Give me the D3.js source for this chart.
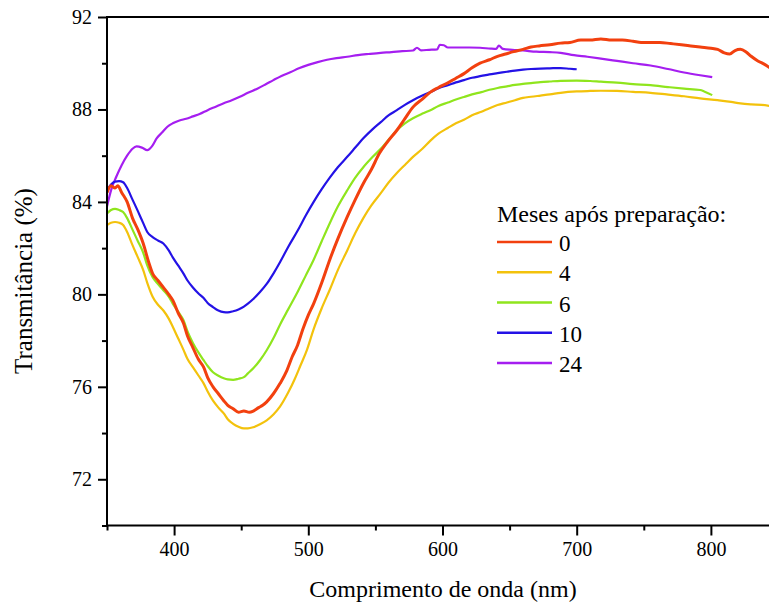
<!DOCTYPE html>
<html>
<head>
<meta charset="utf-8">
<script src="https://cdn.jsdelivr.net/npm/d3@7"></script>
<style>
  html, body { margin: 0; padding: 0; background: #fff; }
  svg text { font-family: "Liberation Serif", "DejaVu Serif", serif !important; fill: #000; }
</style>
</head>
<body>
<svg id="chart" width="769" height="603"></svg>
<script>
// ---- Data (wavelength nm, transmittance %) ----
const legendTitle = "Meses após preparação:";
const seriesNames = ["0", "4", "6", "10", "24"];
const seriesColors = ["#f2400f", "#f3c20c", "#8fe51d", "#2412e6", "#a51ef0"];

const wl0 = [350,353,356,358,361,365,369,373,377,381,384,388,392,396,399,403,407,410,414,418,422,425,429,433,437,440,444,448,452,456,459,463,466,469,474,479,484,488,492,496,500,504,510,516,522,529,535,541,547,553,559,566,572,578,585,591,597,604,610,616,622,628,635,641,647,653,660,666,672,680,688,695,703,710,718,726,734,742,748,755,762,770,778,785,792,800,805,810,814,818,822,826,830,835,840,844];
const t0  = [84.4,84.7,84.6,84.7,84.4,84.0,83.3,82.8,82.2,81.4,80.9,80.6,80.3,80.0,79.75,79.2,78.75,78.2,77.7,77.2,76.85,76.4,76.0,75.7,75.4,75.2,75.05,74.9,74.95,74.9,74.95,75.1,75.2,75.35,75.7,76.15,76.7,77.3,77.8,78.5,79.1,79.6,80.5,81.5,82.4,83.35,84.1,84.8,85.4,86.1,86.6,87.1,87.6,88.1,88.45,88.75,88.95,89.15,89.35,89.55,89.8,90.0,90.15,90.3,90.4,90.5,90.6,90.7,90.75,90.8,90.87,90.9,91.0,91.0,91.05,91.0,91.0,90.95,90.9,90.9,90.9,90.85,90.8,90.75,90.7,90.65,90.6,90.45,90.4,90.55,90.6,90.5,90.3,90.1,89.95,89.8];

const wl4 = [350,353,356,359,362,365,369,373,377,380,384,388,392,396,399,403,407,410,414,418,422,425,429,433,437,440,444,448,452,455,459,464,469,474,479,485,490,494,499,504,510,516,522,529,535,541,547,554,560,566,572,578,585,591,597,604,610,616,622,629,635,641,648,654,660,666,673,680,688,700,710,718,730,742,755,767,780,792,805,815,822,830,838,844];
const t4  = [83.0,83.1,83.13,83.1,83.0,82.7,82.13,81.6,81.05,80.5,79.9,79.55,79.3,78.95,78.6,78.1,77.6,77.2,76.85,76.5,76.15,75.8,75.4,75.1,74.85,74.6,74.4,74.27,74.2,74.2,74.25,74.38,74.55,74.8,75.15,75.75,76.35,76.9,77.6,78.5,79.4,80.2,81.05,81.9,82.65,83.3,83.85,84.38,84.85,85.25,85.6,85.95,86.3,86.65,86.95,87.2,87.4,87.55,87.75,87.9,88.05,88.19,88.3,88.4,88.5,88.55,88.6,88.65,88.72,88.78,88.8,88.81,88.8,88.76,88.72,88.65,88.57,88.48,88.4,88.33,88.26,88.22,88.2,88.15];

const wl6 = [350,353,356,359,362,365,369,373,377,380,384,388,392,396,399,403,407,410,414,418,422,425,429,433,437,440,444,448,452,455,459,464,469,474,479,485,492,498,504,510,516,522,529,535,541,548,554,560,566,572,578,585,591,597,604,610,616,622,629,635,641,648,654,660,666,673,680,688,700,710,718,730,742,755,768,780,792,795,801];
const t6  = [83.5,83.65,83.7,83.65,83.56,83.3,82.8,82.3,81.8,81.25,80.74,80.45,80.18,79.9,79.6,79.25,78.88,78.4,77.9,77.5,77.15,76.9,76.63,76.48,76.37,76.32,76.3,76.35,76.42,76.58,76.8,77.15,77.58,78.1,78.7,79.35,80.1,80.8,81.5,82.3,83.08,83.8,84.5,85.05,85.5,85.95,86.3,86.7,87.1,87.4,87.62,87.82,87.97,88.15,88.3,88.43,88.54,88.65,88.75,88.85,88.93,89.0,89.06,89.11,89.14,89.18,89.21,89.24,89.25,89.23,89.2,89.16,89.1,89.05,88.97,88.9,88.84,88.78,88.62];

const wl10 = [350,353,356,359,362,365,369,373,377,380,384,388,392,396,399,403,407,410,414,418,422,425,429,433,437,440,444,448,452,455,459,464,469,474,479,485,492,498,504,510,516,522,529,535,541,548,554,560,566,572,578,585,591,597,604,610,616,622,629,635,641,648,654,660,666,673,680,688,695,700];
const t10  = [84.5,84.75,84.88,84.9,84.85,84.6,84.1,83.6,83.08,82.7,82.48,82.33,82.2,81.9,81.6,81.25,80.9,80.6,80.3,80.05,79.84,79.63,79.45,79.3,79.23,79.22,79.27,79.35,79.47,79.6,79.8,80.1,80.45,80.9,81.4,82.05,82.75,83.4,84.0,84.55,85.05,85.5,85.95,86.35,86.75,87.15,87.45,87.75,87.97,88.2,88.4,88.6,88.75,88.92,89.05,89.17,89.27,89.37,89.45,89.52,89.57,89.63,89.68,89.72,89.75,89.77,89.78,89.79,89.76,89.74];

const wl24 = [350,353,357,361,365,369,372,376,380,384,387,391,395,399,404,409,414,419,425,431,437,443,449,455,462,468,474,480,487,493,500,507,514,521,529,537,545,554,562,570,578,581,584,590,596,598,601,604,612,620,628,636,640,642,645,652,660,670,680,688,698,708,718,730,742,755,768,780,792,801];
const t24  = [83.8,84.5,85.1,85.6,86.0,86.3,86.4,86.35,86.24,86.45,86.75,87.0,87.25,87.4,87.52,87.6,87.7,87.8,87.97,88.12,88.27,88.4,88.55,88.72,88.9,89.08,89.27,89.45,89.62,89.78,89.93,90.05,90.15,90.22,90.28,90.35,90.4,90.45,90.48,90.52,90.55,90.67,90.56,90.58,90.6,90.8,90.78,90.68,90.68,90.68,90.67,90.63,90.62,90.76,90.62,90.58,90.55,90.5,90.48,90.45,90.35,90.28,90.2,90.1,90.0,89.9,89.75,89.6,89.48,89.4];

const xMajorTicks = [400, 500, 600, 700, 800];
const xMinorTicks = [350, 450, 550, 650, 750, 850];
const yMajorTicks = [72, 76, 80, 84, 88, 92];
const yMinorTicks = [70, 74, 78, 82, 86, 90];
const xTitle = "Comprimento de onda (nm)";
const yTitle = "Transmitância (%)";

// ---- Layout ----
const FONT = '"Liberation Serif", "DejaVu Serif", serif';
const svg = d3.select("#chart");
const L = 107, R = 769, T = 17, B = 525.5;
const x = d3.scaleLinear().domain([350, 843.3]).range([L, R]);
const y = d3.scaleLinear().domain([70, 92]).range([B, T]);

const series = [
  {wl: wl0, t: t0, w: 3},
  {wl: wl4, t: t4, w: 2.2},
  {wl: wl6, t: t6, w: 2.2},
  {wl: wl10, t: t10, w: 2.2},
  {wl: wl24, t: t24, w: 2.2}
];

svg.append("defs").append("clipPath").attr("id", "clip")
  .append("rect").attr("x", L).attr("y", T - 2).attr("width", R - L + 2).attr("height", B - T + 2);

const line = d3.line().x(d => x(d[0])).y(d => y(d[1])).curve(d3.curveMonotoneX);

const gLines = svg.append("g").attr("clip-path", "url(#clip)");
[4, 3, 2, 1, 0].forEach(i => {
  const s = series[i];
  gLines.append("path")
    .datum(s.wl.map((w, k) => [w, s.t[k]]))
    .attr("fill", "none")
    .attr("stroke", seriesColors[i])
    .attr("stroke-width", s.w)
    .attr("stroke-linejoin", "round")
    .attr("d", line);
});

// ---- Axes ----
const xAxisMajor = d3.axisBottom(x).tickValues(xMajorTicks).tickSize(10).tickPadding(6).tickFormat(d3.format("d"));
const xAxisMinor = d3.axisBottom(x).tickValues(xMinorTicks.filter(v => x(v) <= R)).tickSize(5).tickFormat("");
const yAxisMajor = d3.axisLeft(y).tickValues(yMajorTicks).tickSize(9).tickPadding(6).tickFormat(d3.format("d"));
const yAxisMinor = d3.axisLeft(y).tickValues(yMinorTicks).tickSize(5).tickFormat("");

function styleAxis(g) {
  g.attr("font-family", FONT);
  g.select(".domain").remove();
  g.selectAll("line").attr("stroke", "#000").attr("stroke-width", 2);
  g.selectAll("text").attr("font-family", FONT).attr("font-size", 20).attr("fill", "#000");
}

svg.append("g").attr("transform", `translate(0,${B})`).call(xAxisMajor).call(styleAxis);
svg.append("g").attr("transform", `translate(0,${B})`).call(xAxisMinor).call(styleAxis);
svg.append("g").attr("transform", `translate(${L},0)`).call(yAxisMajor).call(styleAxis);
svg.append("g").attr("transform", `translate(${L},0)`).call(yAxisMinor).call(styleAxis);

// frame lines (left, bottom, top)
svg.append("line").attr("x1", L).attr("x2", L).attr("y1", T - 1).attr("y2", B + 1).attr("stroke", "#000").attr("stroke-width", 2);
svg.append("line").attr("x1", L - 1).attr("x2", R).attr("y1", B).attr("y2", B).attr("stroke", "#000").attr("stroke-width", 2);
svg.append("line").attr("x1", L).attr("x2", R).attr("y1", T).attr("y2", T).attr("stroke", "#000").attr("stroke-width", 2);

// axis titles
svg.append("text").attr("x", 443).attr("y", 597).attr("text-anchor", "middle")
  .attr("font-family", FONT).attr("font-size", 24).text(xTitle);
svg.append("text").attr("transform", `translate(32,${281}) rotate(-90)`).attr("text-anchor", "middle")
  .attr("font-family", FONT).attr("font-size", 25).text(yTitle);

// ---- Legend ----
const lg = svg.append("g").attr("font-family", FONT);
lg.append("text").attr("x", 497).attr("y", 222).attr("font-size", 24).text(legendTitle);
const legendY = d3.scaleLinear().domain([0, 4]).range([242, 363]);
seriesNames.forEach((n, i) => {
  const yy = legendY(i);
  lg.append("line").attr("x1", 497).attr("x2", 552).attr("y1", yy).attr("y2", yy)
    .attr("stroke", seriesColors[i]).attr("stroke-width", 2.5);
  lg.append("text").attr("x", 559).attr("y", yy + 9).attr("font-size", 23).text(n);
});
</script>
</body>
</html>
